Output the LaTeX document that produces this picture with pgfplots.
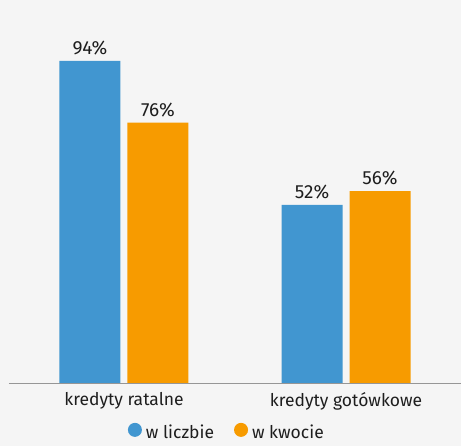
\documentclass[border=0pt]{standalone}
\usepackage{pgfplots}
\pgfplotsset{compat=1.18}
\usepackage{fontspec}
\setmainfont{Fira Sans}
\definecolor{bgc}{RGB}{245,245,245}
\definecolor{cblue}{RGB}{65,150,208}
\definecolor{corange}{RGB}{247,155,0}
\definecolor{txt}{RGB}{30,30,30}
\begin{document}
\begin{tikzpicture}[x=1pt,y=1pt]
\fill[bgc] (0,0) rectangle (461,446);
\path[use as bounding box] (0,0) rectangle (461,446);
\begin{axis}[
  at={(9pt,63pt)}, anchor=south west,
  scale only axis, width=452pt, height=376.9pt,
  xmin=-0.518, xmax=1.518, ymin=0, ymax=110,
  /pgf/number format/assume math mode=true,
  ybar=7pt, bar width=61pt,
  axis x line*=bottom, axis y line=none,
  x axis line style={draw={rgb,255:red,150;green,150;blue,150}, line width=0.8pt, -},
  xtick={0,1}, xticklabels={kredyty ratalne, kredyty gotówkowe},
  xtick style={draw=none},
  xticklabel style={font=\fontsize{17.5}{20}\selectfont, text=txt, yshift=-2pt},
  nodes near coords={\pgfmathprintnumber{\pgfplotspointmeta}\%},
  every node near coord/.append style={font=\fontsize{19}{22}\selectfont, text=txt, anchor=south, yshift=2pt},
  legend style={at={(0.482,-0.131)}, anchor=center, draw=none, fill=none, legend columns=2,
    font=\fontsize{17.5}{20}\selectfont, text=txt, inner sep=0pt,
    /tikz/every even column/.append style={column sep=18pt},
    /tikz/every odd column/.append style={column sep=2pt}},
  legend cell align=left,
  legend image code/.code={\fill[#1] (0pt,0.25em) circle (7pt); \path (-7pt,0) -- (7pt,0);},
]
\addplot[fill=cblue, draw=none] coordinates {(0,94) (1,52)};
\addplot[fill=corange, draw=none] coordinates {(0,76) (1,56)};
\legend{w liczbie, w kwocie}
\end{axis}
\end{tikzpicture}
\end{document}
